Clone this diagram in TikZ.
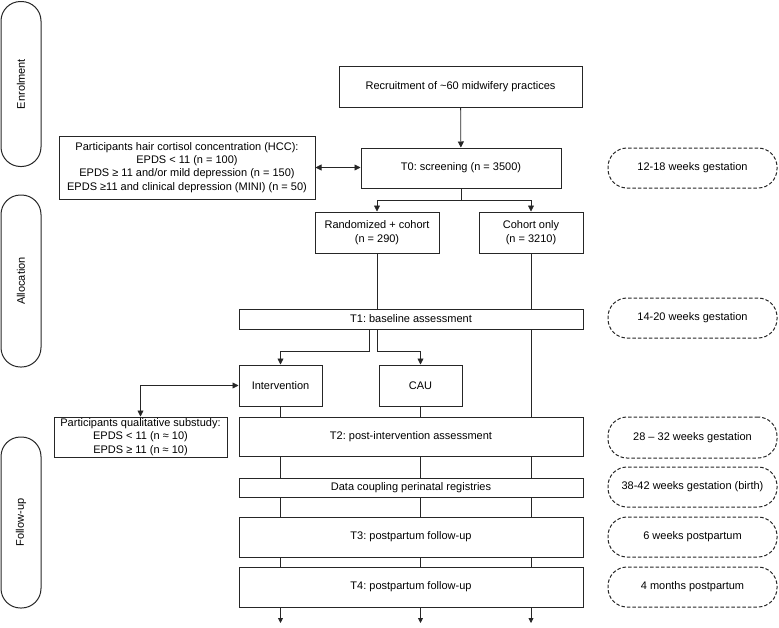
\documentclass[tikz,border=0pt]{standalone}
\usepackage{fontspec}
\setmainfont{Liberation Sans}
\usetikzlibrary{arrows.meta}
\frenchspacing

\begin{document}
\begin{tikzpicture}[x=1pt,y=-1pt,line width=0.8pt,draw=black!85,
    font=\fontsize{11}{13.3}\selectfont,
    box/.style={draw,line width=1pt,inner sep=0pt,align=center},
    stage/.style={draw,line width=1pt,rounded corners=19.5pt,rotate=90,minimum height=40,inner sep=0pt},
    period/.style={draw,line width=1pt,dash pattern=on 3.5pt off 2pt,rounded corners=19pt,minimum width=169,minimum height=40,inner sep=0pt},
    arr/.style={-{Triangle[length=6pt,width=6pt]}},
    dbl/.style={{Triangle[length=6pt,width=6pt]}-{Triangle[length=6pt,width=6pt]}}]
\useasboundingbox (0,0) rectangle (779,627);

\node[stage,minimum width=165] (enrol) at (21,84) {Enrolment};
\node[stage,minimum width=172] (alloc) at (21,281) {Allocation};
\node[stage,minimum width=171] (follow) at (21,522.5) {Follow-up};

\node[box,minimum width=243,minimum height=41] (recruit) at (460.5,86.5) {Recruitment of \textasciitilde60 midwifery practices};
\node[box,minimum width=200,minimum height=40] (t0) at (461,168) {T0: screening (n = 3500)};
\node[box,minimum width=256,minimum height=63] (hcc) at (187,167.5) {Participants hair cortisol concentration (HCC):\\EPDS < 11 (n = 100)\\EPDS ≥ 11 and/or mild depression (n = 150)\\EPDS ≥11 and clinical depression (MINI) (n = 50)};
\node[box,minimum width=124,minimum height=41] (rand) at (377,232.5) {Randomized + cohort\\(n = 290)};
\node[box,minimum width=104,minimum height=41] (cohort) at (531,232.5) {Cohort only\\(n = 3210)};
\node[box,minimum width=344,minimum height=20] (t1) at (411,319) {T1: baseline assessment};
\node[box,minimum width=83,minimum height=41] (interv) at (280.5,385.5) {Intervention};
\node[box,minimum width=83,minimum height=41] (cau) at (420.5,385.5) {CAU};
\node[box,minimum width=173,minimum height=40] (qual) at (140.5,437) {Participants qualitative substudy:\\EPDS < 11 (n ≈ 10)\\EPDS ≥ 11 (n ≈ 10)};
\node[box,minimum width=344,minimum height=39] (t2) at (411,436.5) {T2: post-intervention assessment};
\node[box,minimum width=344,minimum height=19] (dc) at (411,487.5) {Data coupling perinatal registries};
\node[box,minimum width=344,minimum height=40] (t3) at (411,537) {T3: postpartum follow-up};
\node[box,minimum width=344,minimum height=40] (t4) at (411,587) {T4: postpartum follow-up};

\node[period] (p0) at (692.5,168) {12-18 weeks gestation};
\node[period] (p1) at (692.5,318) {14-20 weeks gestation};
\node[period,minimum height=41] (p2) at (692.5,437.5) {28 – 32 weeks gestation};
\node[period] (p3) at (692.5,487) {38-42 weeks gestation (birth)};
\node[period] (p4) at (692.5,537) {6 weeks postpartum};
\node[period] (p5) at (692.5,587) {4 months postpartum};

\coordinate (s1) at (369,329);
\coordinate (s2) at (377,329);
\coordinate (bottom) at (0,623);

\draw[arr] (recruit) -- (t0);
\draw[dbl] (hcc.east) -- (hcc.east -| t0.west);
\draw[arr] (t0.south) -- ++(0,12) -| (rand);
\draw[arr] (t0.south) -- ++(0,12) -| (cohort);
\draw (rand) -- (rand |- t1.north);
\draw (cohort) -- (cohort |- t1.north);
\draw (cohort |- t1.south) -- (cohort |- t2.north);
\draw[arr] (s1) -- ++(0,22) -| (interv);
\draw[arr] (s2) -- ++(0,22) -| (cau);
\draw[dbl] (qual) |- (interv);
\foreach \c in {interv,cau}
  \draw (\c) -- (\c |- t2.north);
\foreach \c in {interv,cau,cohort}{
  \draw (\c |- t2.south) -- (\c |- dc.north);
  \draw (\c |- dc.south) -- (\c |- t3.north);
  \draw (\c |- t3.south) -- (\c |- t4.north);
  \draw[-{Triangle[length=5pt,width=5pt]}] (\c |- t4.south) -- (\c |- bottom);
}
\end{tikzpicture}
\end{document}
